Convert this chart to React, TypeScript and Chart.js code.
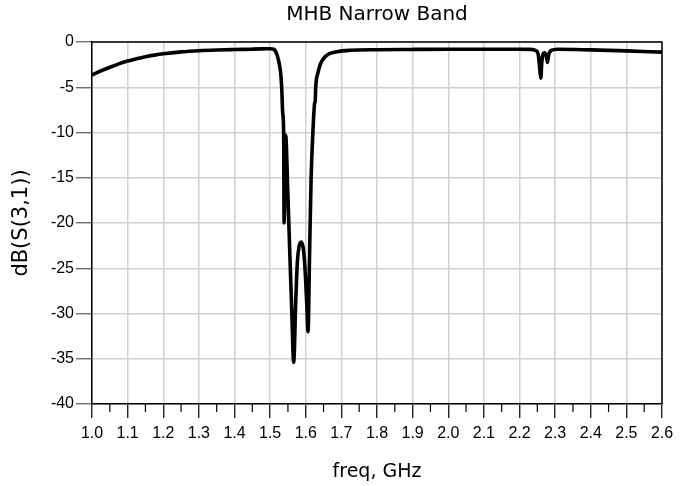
import React, { useEffect, useRef } from "react";
import { Chart, registerables } from "chart.js";

Chart.register(...registerables);

// ---- data ----
const freqGHz = [
  1.0, 1.025, 1.05, 1.075, 1.1, 1.125, 1.15, 1.175, 1.2, 1.25, 1.3, 1.35, 1.4, 1.45, 1.49, 1.5,
  1.51, 1.515, 1.52, 1.524, 1.527, 1.53, 1.5315, 1.533, 1.5352, 1.538, 1.5392, 1.5437, 1.5493,
  1.555, 1.5606, 1.5662, 1.5718, 1.5765, 1.5812, 1.5877, 1.5934, 1.598, 1.6027, 1.6065, 1.6103,
  1.615, 1.6205, 1.6252, 1.6265, 1.628, 1.6346, 1.6412, 1.6505, 1.6645, 1.688, 1.7255, 1.8, 1.9,
  2.0, 2.1, 2.2, 2.2317, 2.2458, 2.2523, 2.257, 2.2598, 2.2627, 2.2664, 2.2711, 2.2758, 2.2786,
  2.2814, 2.288, 2.3067, 2.4, 2.5, 2.6,
];
const dbS31 = [
  -3.65, -3.2, -2.8, -2.42, -2.1, -1.85, -1.63, -1.45, -1.3, -1.09, -0.96, -0.88, -0.83, -0.79, -0.75, -0.74,
  -0.8, -1.0, -1.5, -2.1, -2.7, -3.6, -4.4, -5.5, -7.8, -10.0, -20.0, -10.3, -16.2,
  -23.0, -29.6, -35.4, -28.8, -24.3, -22.6, -22.1, -22.9, -25.1, -28.8, -32.0, -24.3,
  -15.1, -9.6, -6.7, -6.6, -5.0, -3.35, -2.43, -1.8, -1.33, -1.07, -0.92, -0.85, -0.82,
  -0.8, -0.8, -0.8, -0.82, -0.95, -1.33, -3.0, -4.0, -2.2, -1.33, -1.2, -1.7, -2.25,
  -1.5, -0.95, -0.8, -0.87, -0.98, -1.12,
];

const xMin = 1.0;
const xMax = 2.6;
const xMajorStep = 0.1;
const xMinorStep = 0.05;
const yMin = -40;
const yMax = 0;
const yStep = 5;

const chartTitle = "MHB Narrow Band";
const xTitle = "freq, GHz";
const yTitle = "dB(S(3,1))";

const frameAndMinorTicks = {
  id: "frameAndMinorTicks",
  afterDraw(chart: any) {
    const { ctx, chartArea, scales } = chart;
    const { left, right, top, bottom } = chartArea;
    const x = scales.x;
    ctx.save();
    ctx.strokeStyle = "#000";
    ctx.lineWidth = 1.5;
    ctx.beginPath();
    ctx.moveTo(left, top);
    ctx.lineTo(right, top);
    ctx.lineTo(right, bottom);
    ctx.stroke();
    ctx.lineWidth = 1.2;
    ctx.beginPath();
    const n = Math.round((xMax - xMin) / xMajorStep);
    for (let i = 0; i < n; i++) {
      const v = xMin + i * xMajorStep + xMinorStep;
      const px = x.getPixelForValue(v);
      ctx.moveTo(px, bottom);
      ctx.lineTo(px, bottom + 8);
    }
    ctx.stroke();
    ctx.restore();
  },
};

export default function App() {
  const canvasRef = useRef<HTMLCanvasElement | null>(null);

  useEffect(() => {
    document.body.style.margin = "0";
    const canvas = canvasRef.current;
    if (!canvas) return;
    const points = freqGHz.map((f, i) => ({ x: f, y: dbS31[i] }));
    const tickFont = { family: "Liberation Sans, Arial, sans-serif", size: 16 };
    const titleFont = { family: "DejaVu Sans, sans-serif", size: 19 };
    const chart = new Chart(canvas, {
      type: "line",
      data: {
        datasets: [
          {
            data: points,
            borderColor: "#000",
            borderWidth: 3.6,
            pointRadius: 0,
            cubicInterpolationMode: "monotone",
            borderJoinStyle: "bevel",
            fill: false,
          },
        ],
      },
      options: {
        animation: false,
        responsive: false,
        devicePixelRatio: 1,
        layout: { padding: { left: 0, right: 29, top: 0, bottom: 0 } },
        plugins: {
          legend: { display: false },
          tooltip: { enabled: false },
          title: {
            display: true,
            text: chartTitle,
            fullSize: false,
            color: "#000",
            font: { family: "DejaVu Sans, sans-serif", size: 20, weight: "normal" },
            padding: { top: 3, bottom: 15 },
          },
        },
        scales: {
          x: {
            type: "linear",
            min: xMin,
            max: xMax,
            ticks: {
              stepSize: xMajorStep,
              autoSkip: false,
              maxRotation: 0,
              color: "#000",
              font: tickFont,
              padding: 6,
              callback: (v: any) => Number(v).toFixed(1),
            },
            grid: {
              color: "#d0d0d0",
              lineWidth: 1.5,
              tickLength: 14,
              tickColor: "#000",
              tickWidth: 1.2,
            },
            border: { color: "#000", width: 1.5 },
            title: {
              display: true,
              text: xTitle,
              color: "#000",
              font: titleFont,
              padding: { top: 0, bottom: 3 },
            },
            afterFit: (s: any) => {
              s.height = 82;
            },
          },
          y: {
            type: "linear",
            min: yMin,
            max: yMax,
            ticks: {
              stepSize: yStep,
              color: "#000",
              font: tickFont,
              padding: 2,
            },
            grid: {
              color: "#d0d0d0",
              lineWidth: 1.5,
              tickLength: 16,
              tickColor: "#555",
              tickWidth: 1.2,
            },
            border: { color: "#000", width: 1.5 },
            title: {
              display: true,
              text: yTitle,
              color: "#000",
              font: { family: "DejaVu Sans, sans-serif", size: 21 },
              padding: { top: 9, bottom: 0 },
            },
            afterFit: (s: any) => {
              s.width = 92;
            },
          },
        },
      },
      plugins: [frameAndMinorTicks],
    } as any);
    return () => chart.destroy();
  }, []);

  return (
    <div style={{ width: 691, height: 486, background: "#fff" }}>
      <canvas ref={canvasRef} width={691} height={486} style={{ display: "block" }} />
    </div>
  );
}
